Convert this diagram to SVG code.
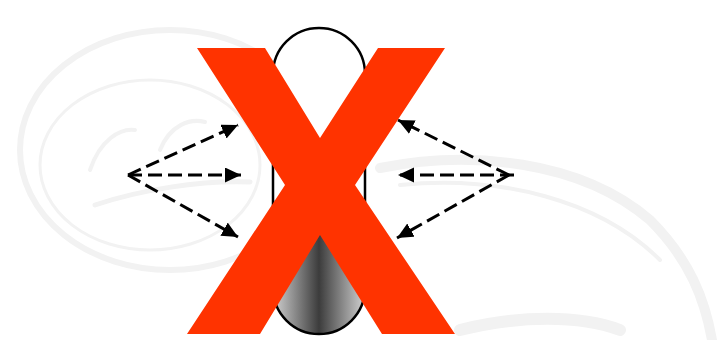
<svg xmlns="http://www.w3.org/2000/svg" width="719" height="340" viewBox="0 0 719 340">
  <style>
    .bg { fill: none; stroke: #f2f2f2; stroke-linecap: round; }
    .conn { fill: none; stroke: #000; stroke-width: 3; stroke-dasharray: 14 6; }
    .cap { stroke: #000; stroke-width: 2.5; }
    .cross { fill: #ff3300; }
  </style>
  <defs>
    <marker id="ah" markerUnits="userSpaceOnUse" markerWidth="17" markerHeight="16" refX="16" refY="7.5" orient="auto">
      <path d="M0,0 L16,7.5 L0,15 z" fill="#000"/>
    </marker>
    <linearGradient id="shade" x1="273" y1="0" x2="365" y2="0" gradientUnits="userSpaceOnUse">
      <stop offset="0" stop-color="#d2d2d2"/>
      <stop offset="0.5" stop-color="#3c3c3c"/>
      <stop offset="1" stop-color="#d2d2d2"/>
    </linearGradient>
    <clipPath id="capClip">
      <rect x="273" y="28" width="92" height="306" rx="46" ry="46"/>
    </clipPath>
  </defs>
  <rect x="0" y="0" width="719" height="340" fill="#fff"/>
  <g id="background">
    <ellipse class="bg" cx="170" cy="150" rx="150" ry="120" stroke-width="6"/>
    <ellipse class="bg" cx="150" cy="165" rx="110" ry="85" stroke-width="3" stroke="#f5f5f5"/>
    <path class="bg" d="M95,205 C140,190 200,180 250,182" stroke-width="5"/>
    <path class="bg" d="M90,170 C100,140 120,128 135,130" stroke-width="4"/>
    <path class="bg" d="M160,150 C170,125 190,118 205,122" stroke-width="4"/>
    <path class="bg" d="M380,168 C470,150 580,160 650,220 C690,260 705,300 712,340" stroke-width="10"/>
    <path class="bg" d="M400,185 C500,175 600,200 660,260" stroke-width="4" stroke="#f5f5f5"/>
    <path class="bg" d="M460,330 C520,315 580,315 620,330" stroke-width="12"/>
  </g>
  <g id="capsule">
    <rect x="273" y="28" width="92" height="306" rx="46" ry="46" fill="#fff"/>
    <rect x="273" y="200" width="92" height="136" fill="url(#shade)" clip-path="url(#capClip)"/>
    <rect class="cap" x="273" y="28" width="92" height="306" rx="46" ry="46" fill="none"/>
  </g>
  <g id="connectors">
    <line class="conn" x1="128" y1="175" x2="238" y2="125" marker-end="url(#ah)"/>
    <line class="conn" x1="128" y1="175" x2="241" y2="175" marker-end="url(#ah)"/>
    <line class="conn" x1="128" y1="175" x2="238" y2="237" marker-end="url(#ah)"/>
    <line class="conn" x1="509" y1="175" x2="398" y2="120" marker-end="url(#ah)"/>
    <line class="conn" x1="514" y1="175" x2="398" y2="175" marker-end="url(#ah)"/>
    <line class="conn" x1="509" y1="175" x2="397" y2="238" marker-end="url(#ah)"/>
  </g>
  <g id="cross">
    <polygon class="cross" points="197,48 265,48 320,138 378,48 445,48 355,185 455,334 382,334 320,235 260,334 187,334 285,185"/>
  </g>
</svg>
